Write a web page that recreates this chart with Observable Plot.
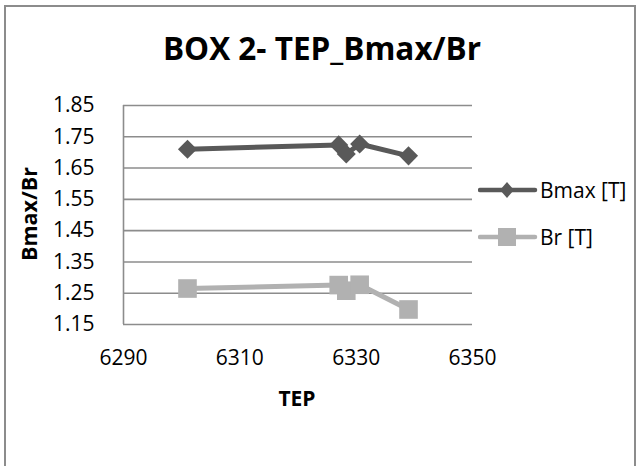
<!DOCTYPE html>
<html>
<head>
<meta charset="utf-8">
<script src="https://cdn.jsdelivr.net/npm/d3@7"></script>
<script src="https://cdn.jsdelivr.net/npm/@observablehq/plot@0.6"></script>
<style>
  html, body { margin: 0; padding: 0; background: #fff; }
  #wrap { position: relative; width: 644px; height: 466px; overflow: hidden; font-family: "Open Sans", sans-serif; }
  #frame { position: absolute; left: 4px; top: 5px; width: 632px; height: 520px; border: 2px solid #8c8c8c; box-sizing: border-box; }
  #title { position: absolute; left: 0; width: 644px; top: 25px; text-align: center; font-weight: bold; font-size: 31.5px; line-height: 46px; color: #000; }
  #chart { position: absolute; left: 0; top: 0; }
  #xlabel { position: absolute; left: 247px; width: 100px; top: 383px; text-align: center; font-weight: bold; font-size: 21px; line-height: 30px; }
  #ylabel { position: absolute; left: 29px; top: 214px; transform: translate(-50%, -50%) rotate(-90deg); font-weight: bold; font-size: 21.5px; line-height: 26px; white-space: nowrap; }
  #legend { position: absolute; left: 478px; top: 170px; }
</style>
</head>
<body>
<div id="wrap">
  <div id="frame"></div>
  <div id="chart"></div>
  <div id="title">BOX 2- TEP_Bmax/Br</div>
  <div id="xlabel">TEP</div>
  <div id="ylabel">Bmax/Br</div>
  <div id="legend"></div>
</div>
<script>
// TEP readings and the two induction series
const tep  = [6301, 6327, 6328.3, 6330.6, 6339];
const bmax = [1.71, 1.724, 1.695, 1.727, 1.689];
const br   = [1.265, 1.276, 1.258, 1.277, 1.198];

const seriesNames = ["Bmax [T]", "Br [T]"];
const xTicks = [6290, 6310, 6330, 6350];
const yTicks = [1.15, 1.25, 1.35, 1.45, 1.55, 1.65, 1.75, 1.85];

const colorBmax = "#595959";
const colorBr = "#b1b1b1";
const gridColor = "#8c8c8c";

const rowsBmax = tep.map((t, i) => ({tep: t, v: bmax[i]}));
const rowsBr = tep.map((t, i) => ({tep: t, v: br[i]}));

const chart = Plot.plot({
  width: 644,
  height: 466,
  marginLeft: 123,
  marginRight: 172,
  marginTop: 105,
  marginBottom: 142,
  style: {fontFamily: "Open Sans, sans-serif", fontSize: "21px", color: "#000", background: "transparent", overflow: "visible"},
  x: {domain: [6290, 6350]},
  y: {domain: [1.15, 1.85]},
  marks: [
    Plot.ruleY(yTicks, {stroke: gridColor, strokeWidth: 1.6}),
    Plot.ruleX([6290], {y1: 1.15, y2: 1.85, stroke: gridColor, strokeWidth: 1.6}),
    Plot.axisY(yTicks, {tickSize: 0, tickPadding: 29, fontSize: 21, tickFormat: d => d.toFixed(2), label: null, fill: "#000"}),
    Plot.axisX(xTicks, {tickSize: 0, tickPadding: 26, fontSize: 21, tickFormat: d => String(d), label: null, fill: "#000"}),
    Plot.line(rowsBmax, {x: "tep", y: "v", stroke: colorBmax, strokeWidth: 5}),
    Plot.dot(rowsBmax, {x: "tep", y: "v", symbol: "diamond2", r: 8.6, fill: colorBmax, stroke: "none"}),
    Plot.line(rowsBr, {x: "tep", y: "v", stroke: colorBr, strokeWidth: 5}),
    Plot.dot(rowsBr, {x: "tep", y: "v", symbol: "square", r: 10.5, fill: colorBr, stroke: "none"})
  ]
});
document.getElementById("chart").appendChild(chart);

// legend: line swatch with marker, then series name
const legend = d3.select("#legend").append("svg")
  .attr("width", 166).attr("height", 90)
  .style("font-family", "Open Sans, sans-serif").style("font-size", "21px");
const entries = [
  {name: seriesNames[0], color: colorBmax, shape: "diamond", y: 20},
  {name: seriesNames[1], color: colorBr, shape: "square", y: 67}
];
entries.forEach(e => {
  legend.append("line").attr("x1", 2).attr("x2", 57).attr("y1", e.y).attr("y2", e.y)
    .attr("stroke", e.color).attr("stroke-width", 4.5).attr("stroke-linecap", "round");
  if (e.shape === "diamond") {
    legend.append("path").attr("d", `M29,${e.y - 8}L36,${e.y}L29,${e.y + 8}L22,${e.y}Z`).attr("fill", e.color);
  } else {
    legend.append("rect").attr("x", 20).attr("y", e.y - 9).attr("width", 18).attr("height", 18).attr("fill", e.color);
  }
  legend.append("text").attr("x", 62).attr("y", e.y).attr("dy", "0.36em").attr("fill", "#000").text(e.name);
});
</script>
</body>
</html>
